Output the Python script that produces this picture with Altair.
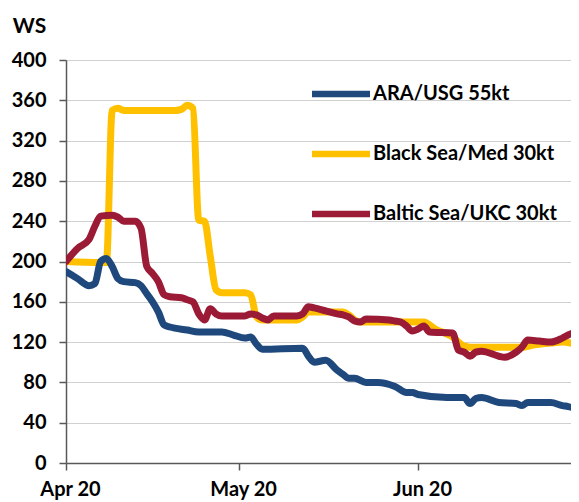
import altair as alt
import pandas as pd

SERIES = ["ARA/USG 55kt", "Black Sea/Med 30kt", "Baltic Sea/UKC 30kt"]
COLORS = ["#1f497d", "#ffc000", "#9b1b36"]

ara_dates = ["04-01", "04-03", "04-05", "04-06", "04-07", "04-08", "04-09", "04-10", "04-11", "04-13",
             "04-14", "04-15", "04-16", "04-17", "04-18", "04-19", "04-22", "04-24", "04-28", "04-30",
             "05-02", "05-03", "05-04", "05-05", "05-12", "05-13", "05-14", "05-16", "05-18", "05-19",
             "05-20", "05-21", "05-23", "05-25", "05-28", "05-30", "05-31", "06-01", "06-06", "06-09",
             "06-10", "06-11", "06-12", "06-15", "06-18", "06-19", "06-20", "06-24", "06-26", "06-27",
             "06-29"]
ara_vals = [190, 183, 176, 178, 200, 203, 195, 183, 180, 179,
            176, 168, 160, 150, 137, 135, 132, 130, 130, 127,
            124, 125, 118, 113, 114, 106, 100, 102, 92, 88,
            84, 84, 80, 80, 76, 70, 70, 68, 65, 65,
            59, 64, 65, 60, 59, 57, 60, 60, 57, 56,
            53]

bsm_dates = ["04-01", "04-07", "04-08", "04-09", "04-10", "04-11", "04-20", "04-21", "04-22", "04-23",
             "04-24", "04-25", "04-26", "04-27", "04-28", "05-02", "05-03", "05-04", "05-05", "05-11",
             "05-12", "05-13", "05-19", "05-20", "05-21", "05-22", "06-02", "06-04", "06-06", "06-07",
             "06-08", "06-09", "06-10", "06-19", "06-21", "06-24", "06-26", "06-29"]
bsm_vals = [200, 199, 199, 350, 352, 350, 350, 351, 355, 352,
            241, 240, 205, 172, 169, 169, 167, 145, 142, 142,
            145, 150, 150, 147, 142, 140, 140, 133, 128, 125,
            120, 116, 115, 115, 117, 119, 120, 117]

bal_dates = ["04-01", "04-03", "04-05", "04-06", "04-07", "04-09", "04-10", "04-11", "04-13", "04-14",
             "04-15", "04-16", "04-17", "04-18", "04-19", "04-21", "04-22", "04-23", "04-24", "04-25",
             "04-26", "04-27", "04-28", "05-02", "05-03", "05-04", "05-05", "05-06", "05-07", "05-11",
             "05-12", "05-13", "05-14", "05-16", "05-18", "05-19", "05-20", "05-21", "05-22", "05-23",
             "05-27", "05-28", "05-29", "05-30", "05-31", "06-01", "06-02", "06-03", "06-07", "06-08",
             "06-09", "06-10", "06-11", "06-12", "06-15", "06-16", "06-18", "06-19", "06-20", "06-22",
             "06-24", "06-26", "06-27", "06-29"]
bal_vals = [200, 213, 222, 235, 245, 246, 244, 240, 240, 233,
            195, 188, 180, 167, 165, 164, 162, 160, 148, 142,
            153, 148, 146, 146, 148, 147, 144, 142, 146, 146,
            148, 155, 154, 151, 148, 147, 145, 141, 140, 143,
            142, 141, 140, 136, 131, 133, 136, 130, 129, 112,
            110, 106, 110, 111, 106, 105, 110, 115, 122, 121,
            120, 124, 127, 131]

Y_TICKS = [0, 40, 80, 120, 160, 200, 240, 280, 320, 360, 400]

frames = []
for name, ds, vs in [(SERIES[0], ara_dates, ara_vals),
                     (SERIES[1], bsm_dates, bsm_vals),
                     (SERIES[2], bal_dates, bal_vals)]:
    frames.append(pd.DataFrame({"date": ["2020-" + d for d in ds], "ws": vs, "route": name}))
df = pd.concat(frames, ignore_index=True)

FONT = "Lato"

x = alt.X(
    "date:T",
    scale=alt.Scale(type="utc",
                    domain=[alt.DateTime(year=2020, month=4, date=1, utc=True),
                            alt.DateTime(year=2020, month=6, date=27, hours=12, utc=True)]),
    axis=alt.Axis(
        title=None,
        values=[alt.DateTime(year=2020, month=4, date=1, utc=True),
                alt.DateTime(year=2020, month=5, date=1, utc=True),
                alt.DateTime(year=2020, month=6, date=1, utc=True)],
        format="%b %y",
        grid=False, labelFlush=False,
        labelFont=FONT, labelFontSize=20, labelFontWeight="bold", labelColor="#000000",
        labelPadding=9, labelOffset=4,
        tickSize=7, tickColor="#595959", tickWidth=1.5,
        domainColor="#595959", domainWidth=1.5,
    ),
)
y = alt.Y(
    "ws:Q",
    scale=alt.Scale(domain=[0, 400], nice=False),
    axis=alt.Axis(
        title="WS", titleAngle=0, titleAlign="center", titleBaseline="alphabetic",
        titleX=-37, titleY=-28,
        titleFont=FONT, titleFontSize=21, titleFontWeight="bold", titleColor="#000000",
        values=Y_TICKS,
        labelFont=FONT, labelFontSize=20, labelFontWeight="bold", labelColor="#000000",
        labelPadding=13,
        tickSize=7, tickColor="#595959", tickWidth=1.5,
        domainColor="#595959", domainWidth=1.5,
        gridColor="#d0d0d0", gridWidth=1.2,
    ),
)
color = alt.Color(
    "route:N",
    scale=alt.Scale(domain=SERIES, range=COLORS),
    legend=alt.Legend(
        title=None, orient="none", legendX=257, legendY=16,
        symbolType="M-2,0H2", symbolSize=841, symbolStrokeWidth=6.5,
        labelFont=FONT, labelFontSize=20, labelFontWeight="bold", labelColor="#000000",
        labelOffset=14, labelLimit=400, rowPadding=29, padding=0,
    ),
)


def layer_for(name):
    return alt.Chart(df).transform_filter(alt.datum.route == name).mark_line(
        strokeWidth=7, strokeCap="round", strokeJoin="round", interpolate="monotone", clip=True
    ).encode(x=x, y=y, color=color)


chart = alt.layer(
    layer_for(SERIES[1]), layer_for(SERIES[0]), layer_for(SERIES[2])
).properties(
    width=505, height=403,
    autosize=alt.AutoSizeParams(type="none"),
    padding={"left": 58, "top": 52, "right": 0, "bottom": 40},
    background="#ffffff",
).configure_view(stroke=None)

chart.save("out.html", embed_options={"renderer": "svg", "actions": False})
